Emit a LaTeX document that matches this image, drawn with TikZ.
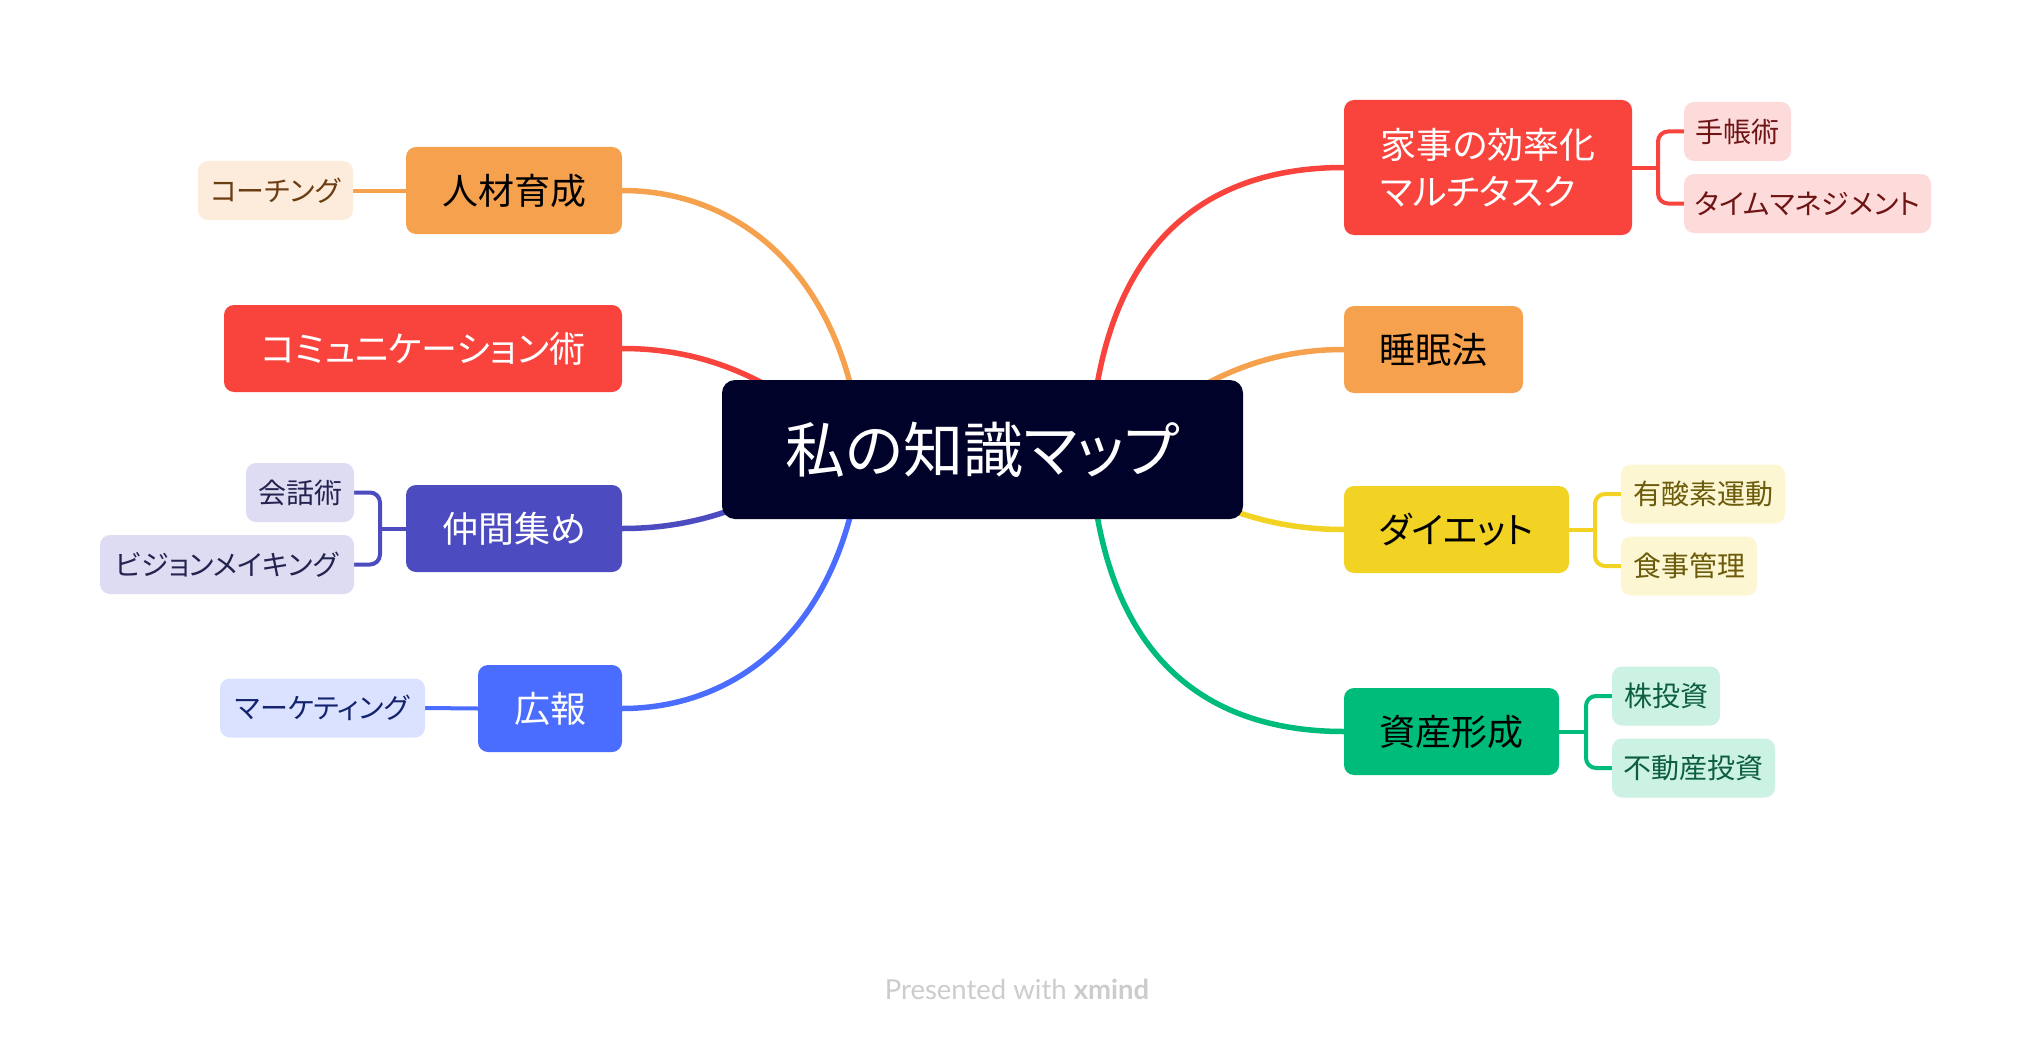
\documentclass[tikz,border=0pt]{standalone}
\usepackage{fontspec}
\setmainfont{Noto Sans CJK JP}[RawFeature=+palt]
\newfontfamily\footfont{Lato}
\usetikzlibrary{calc}
\pgfdeclarelayer{bg}
\pgfsetlayers{bg,main}
\definecolor{cCentral}{HTML}{000229}
\definecolor{cOrange}{HTML}{F6A14E}
\definecolor{cRed}{HTML}{F9443D}
\definecolor{cPurple}{HTML}{4C4BC0}
\definecolor{cBlue}{HTML}{4A6CFF}
\definecolor{cYellow}{HTML}{F2D323}
\definecolor{cGreen}{HTML}{00BC7A}
\definecolor{tOrange}{HTML}{FDEBDC}
\definecolor{tRed}{HTML}{FDDBDA}
\definecolor{tPurple}{HTML}{DEDCF2}
\definecolor{tBlue}{HTML}{DBE2FF}
\definecolor{tYellow}{HTML}{FCF6D3}
\definecolor{tGreen}{HTML}{CCF2E4}
\definecolor{dOrange}{HTML}{6B3D12}
\definecolor{dRed}{HTML}{6E1414}
\definecolor{dPurple}{HTML}{232350}
\definecolor{dBlue}{HTML}{14236E}
\definecolor{dYellow}{HTML}{6B5B0A}
\definecolor{dGreen}{HTML}{0D5E40}
\definecolor{cFoot}{HTML}{CCCCCC}
\begin{document}
\begin{tikzpicture}[x=1pt,y=-1pt,
  box/.style={rounded corners=10pt, inner sep=0pt, align=center},
  mainbox/.style={box, font=\fontsize{36}{47}\selectfont, minimum height=87pt},
  subbox/.style={box, font=\fontsize{28}{34}\selectfont, minimum height=59pt},
  conn/.style={line width=5.5pt},
  subconn/.style={line width=4pt, rounded corners=10pt}]
\useasboundingbox (0,0) rectangle (2032,1038);

% central
\node[box, rounded corners=13pt, fill=cCentral, text=white, minimum width=521pt, minimum height=139pt, font=\fontsize{60}{64}\selectfont] (c) at (982.5,449.5) {私の知識マップ};

% left main
\node[mainbox, fill=cOrange, text=black, minimum width=216pt] (jin) at (514,190.5) {人材育成};
\node[mainbox, fill=cRed, text=white, minimum width=398pt] (comm) at (423,348.5) {コミュニケーション術};
\node[mainbox, fill=cPurple, text=white, minimum width=216pt] (naka) at (514,528.5) {仲間集め};
\node[mainbox, fill=cBlue, text=white, minimum width=144pt] (kouhou) at (550,708.5) {広報};

% left sub
\node[subbox, fill=tOrange, text=dOrange, minimum width=155pt] (coach) at (275.5,190.5) {コーチング};
\node[subbox, fill=tPurple, text=dPurple, minimum width=108pt] (kaiwa) at (300,492.5) {会話術};
\node[subbox, fill=tPurple, text=dPurple, minimum width=254pt] (vision) at (227,564.5) {ビジョンメイキング};
\node[subbox, fill=tBlue, text=dBlue, minimum width=205pt] (mkt) at (322.5,708) {マーケティング};

% right main
\node[mainbox, fill=cRed, text=white, minimum width=288pt, minimum height=135pt, align=left] (kaji) at (1488,167.5) {家事の効率化\\マルチタスク};
\node[mainbox, fill=cOrange, text=black, minimum width=179pt] (suimin) at (1433.5,349.5) {睡眠法};
\node[mainbox, fill=cYellow, text=black, minimum width=225pt] (diet) at (1456.5,529.5) {ダイエット};
\node[mainbox, fill=cGreen, text=black, minimum width=215pt] (shisan) at (1451.5,731.5) {資産形成};

% right sub
\node[subbox, fill=tRed, text=dRed, minimum width=107pt] (techo) at (1737.5,131.5) {手帳術};
\node[subbox, fill=tRed, text=dRed, minimum width=247pt] (time) at (1807.5,203.5) {タイムマネジメント};
\node[subbox, fill=tYellow, text=dYellow, minimum width=164pt] (yuu) at (1703,494) {有酸素運動};
\node[subbox, fill=tYellow, text=dYellow, minimum width=136pt] (shoku) at (1689,566) {食事管理};
\node[subbox, fill=tGreen, text=dGreen, minimum width=108pt] (kabu) at (1666,696) {株投資};
\node[subbox, fill=tGreen, text=dGreen, minimum width=163pt] (fudou) at (1693.5,768) {不動産投資};

% footer
\node[font=\footfont\fontsize{27.5}{32}\selectfont, text=cFoot, inner sep=0pt] (foot) at (1017,989) {Presented with \textbf{xmind}};

% hidden ends inside central node
\coordinate (eL1) at (862,450);
\coordinate (eL2) at (820,420);
\coordinate (eL3) at (800,480);
\coordinate (eR1) at (1090,450);
\coordinate (eR2) at (1147,422);
\coordinate (eR3) at (1167,482);
% bracket joints
\coordinate (bNaka) at (380,528.5);
\coordinate (bKaji) at (1658,167.5);
\coordinate (bDiet) at (1595,529.5);
\coordinate (bShisan) at (1586,731.5);

\begin{pgfonlayer}{bg}
\fill[white] (0,0) rectangle (2032,1038);
\draw[conn, cOrange] (jin.east) .. controls +(115,0) and +(-18,-178) .. (eL1);
\draw[conn, cRed] (comm.east) .. controls +(78,0) and +(-60,-45) .. (eL2);
\draw[conn, cPurple] (naka.east) .. controls +(68,0) and +(-60,30) .. (eL3);
\draw[conn, cBlue] (kouhou.east) .. controls +(115,0) and +(-18,178) .. (eL1);
\draw[conn, cRed] (kaji.west) .. controls +(-145,0) and +(10,-200) .. (eR1);
\draw[conn, cOrange] (suimin.west) .. controls +(-78,0) and +(60,-45) .. (eR2);
\draw[conn, cYellow] (diet.west) .. controls +(-68,0) and +(60,30) .. (eR3);
\draw[conn, cGreen] (shisan.west) .. controls +(-145,0) and +(10,200) .. (eR1);

\draw[subconn, cOrange] (coach.east) -- (jin.west);
\draw[subconn, cBlue] (mkt.east) -- (kouhou.west);
\draw[subconn, cPurple] (naka.west) -- (bNaka);
\draw[subconn, cPurple] (kaiwa.east) -| (bNaka) |- (vision.east);
\draw[subconn, cRed] (kaji.east) -- (bKaji);
\draw[subconn, cRed] (techo.west) -| (bKaji) |- (time.west);
\draw[subconn, cYellow] (diet.east) -- (bDiet);
\draw[subconn, cYellow] (yuu.west) -| (bDiet) |- (shoku.west);
\draw[subconn, cGreen] (shisan.east) -- (bShisan);
\draw[subconn, cGreen] (kabu.west) -| (bShisan) |- (fudou.west);
\end{pgfonlayer}
\end{tikzpicture}
\end{document}
